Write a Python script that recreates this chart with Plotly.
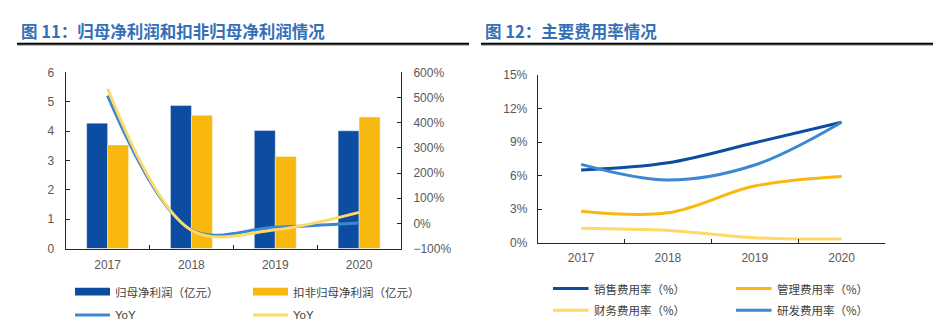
import plotly.graph_objects as go

# ---- data ----
years = ["2017", "2018", "2019", "2020"]

net_profit = [4.27, 4.87, 4.02, 4.01]          # 归母净利润（亿元）
net_profit_adj = [3.53, 4.54, 3.14, 4.48]      # 扣非归母净利润（亿元）
net_profit_yoy = [508, -25, -15, 2]            # YoY (%)
net_profit_adj_yoy = [535, -27, -25, 44]       # YoY (%)

sales_rate = [6.49, 7.14, 8.94, 10.77]         # 销售费用率（%）
admin_rate = [2.80, 2.66, 5.06, 5.91]          # 管理费用率（%）
finance_rate = [1.29, 1.09, 0.43, 0.31]        # 财务费用率（%）
rd_rate = [7.00, 5.60, 6.94, 10.77]            # 研发费用率（%）

left_title = "图 11：归母净利润和扣非归母净利润情况"
right_title = "图 12：主要费用率情况"
left_names = ["归母净利润（亿元）", "扣非归母净利润（亿元）", "YoY", "YoY"]
right_names = ["销售费用率（%）", "管理费用率（%）", "财务费用率（%）", "研发费用率（%）"]

# ---- style ----
W, H = 943, 330
DARK_BLUE = "#0D4DA1"
ORANGE = "#F8B80F"
LIGHT_BLUE = "#3C87D2"
LIGHT_YELLOW = "#FFD966"
TITLE_BLUE = "#3470B8"
AXIS = "#262626"
TICK_TXT = "#595959"
LEG_TXT = "#404040"
NUM_FONT = "Liberation Sans, Arial, sans-serif"
CJK_FONT = "Noto Sans CJK SC, sans-serif"


def px(x):
    """page pixel x -> paper fraction"""
    return x / W


def py(y):
    """page pixel y (from top) -> paper fraction"""
    return 1 - y / H


fig = go.Figure()

# left chart: bars + YoY lines
bar_edge = dict(color="rgba(255,255,255,0.5)", width=0.8)
fig.add_trace(go.Bar(x=years, y=net_profit, name=left_names[0],
                     marker=dict(color=DARK_BLUE, line=bar_edge), xaxis="x", yaxis="y"))
fig.add_trace(go.Bar(x=years, y=net_profit_adj, name=left_names[1],
                     marker=dict(color=ORANGE, line=bar_edge), xaxis="x", yaxis="y"))
fig.add_trace(go.Scatter(x=years, y=net_profit_yoy, name=left_names[2], mode="lines",
                         line=dict(color=LIGHT_BLUE, width=3, shape="spline", smoothing=1),
                         xaxis="x", yaxis="y2"))
fig.add_trace(go.Scatter(x=years, y=net_profit_adj_yoy, name=left_names[3], mode="lines",
                         line=dict(color=LIGHT_YELLOW, width=3, shape="spline", smoothing=1),
                         xaxis="x", yaxis="y2"))

# right chart: expense ratios
right_series = [sales_rate, admin_rate, finance_rate, rd_rate]
right_colors = [DARK_BLUE, ORANGE, LIGHT_YELLOW, LIGHT_BLUE]
for vals, name, col in zip(right_series, right_names, right_colors):
    fig.add_trace(go.Scatter(x=years, y=vals, name=name, mode="lines",
                             line=dict(color=col, width=3, shape="spline", smoothing=1),
                             xaxis="x2", yaxis="y3"))

tick_font = dict(family=NUM_FONT, size=12, color=TICK_TXT)
common = dict(showline=True, linecolor=AXIS, linewidth=1, ticks="inside", ticklen=4,
              tickcolor=AXIS, tickfont=tick_font, showgrid=False, zeroline=False)

fig.update_layout(
    width=W, height=H, autosize=False,
    margin=dict(l=0, r=0, t=0, b=0),
    paper_bgcolor="white", plot_bgcolor="white",
    showlegend=False,
    barmode="group", bargap=0.5, bargroupgap=0,
    xaxis=dict(domain=[px(65.7), px(401)], anchor="y", type="category",
               categoryorder="array", categoryarray=years, range=[-0.5, 3.5],
               tickson="boundaries", ticklabelstandoff=5, **common),
    yaxis=dict(domain=[py(252.3), py(68.3)], anchor="x", range=[0, 6], dtick=1,
               ticklabelstandoff=8, **common),
    yaxis2=dict(domain=[py(252.3), py(68.3)], anchor="x", overlaying="y", side="right",
                range=[-100, 600], dtick=100, ticksuffix="%", ticklabelstandoff=9, **common),
    xaxis2=dict(domain=[px(537.7), px(885)], anchor="y3", type="category",
                categoryorder="array", categoryarray=years, range=[-0.5, 3.5],
                tickson="boundaries", ticklabelstandoff=4, **common),
    yaxis3=dict(domain=[py(246), py(71)], anchor="x2", range=[0, 15], dtick=3,
                ticksuffix="%", ticklabelstandoff=7, **common),
)

shapes = []
annotations = []

# chart titles with rules underneath
for x0, x1, tx, text in [(17, 469, 19, left_title), (481, 933, 483, right_title)]:
    shapes.append(dict(type="line", xref="paper", yref="paper",
                       x0=px(x0), x1=px(x1), y0=py(40), y1=py(40),
                       line=dict(color="#A6A6A6", width=1)))
    shapes.append(dict(type="line", xref="paper", yref="paper",
                       x0=px(x0), x1=px(x1), y0=py(38.5), y1=py(38.5),
                       line=dict(color="#000000", width=2)))
    annotations.append(dict(xref="paper", yref="paper", x=px(tx), y=py(25),
                            xanchor="left", yanchor="middle", showarrow=False,
                            text="<b>" + text + "</b>",
                            font=dict(family=CJK_FONT, size=16.5, color=TITLE_BLUE)))


# hand-placed legends
def legend_item(x0, x1, yc, color, text, kind, font_family):
    if kind == "bar":
        shapes.append(dict(type="rect", xref="paper", yref="paper",
                           x0=px(x0), x1=px(x1), y0=py(yc + 4), y1=py(yc - 4),
                           fillcolor=color, line=dict(width=0)))
    else:
        shapes.append(dict(type="line", xref="paper", yref="paper",
                           x0=px(x0), x1=px(x1), y0=py(yc), y1=py(yc),
                           line=dict(color=color, width=3)))
    annotations.append(dict(xref="paper", yref="paper", x=px(x1 + 3), y=py(yc),
                            xanchor="left", yanchor="middle", showarrow=False,
                            text=text, font=dict(family=font_family, size=11.5, color=LEG_TXT)))


legend_item(75, 110, 297.3, DARK_BLUE, left_names[0], "bar", CJK_FONT)
legend_item(253, 288, 297.3, ORANGE, left_names[1], "bar", CJK_FONT)
legend_item(75, 110, 321.7, LIGHT_BLUE, left_names[2], "line", NUM_FONT)
legend_item(253, 288, 321.7, LIGHT_YELLOW, left_names[3], "line", NUM_FONT)

legend_item(553, 588.5, 294, right_colors[0], right_names[0], "line", CJK_FONT)
legend_item(736, 771.5, 294, right_colors[1], right_names[1], "line", CJK_FONT)
legend_item(553, 588.5, 316.7, right_colors[2], right_names[2], "line", CJK_FONT)
legend_item(736, 771.5, 316.7, right_colors[3], right_names[3], "line", CJK_FONT)

fig.update_layout(shapes=shapes, annotations=annotations)

# page without margins or scrollbars so the figure fills the window exactly
fig.write_html("out.html",
               post_script="document.body.style.margin='0';"
                           "document.documentElement.style.overflow='hidden';"
                           "document.body.style.overflow='hidden';")
